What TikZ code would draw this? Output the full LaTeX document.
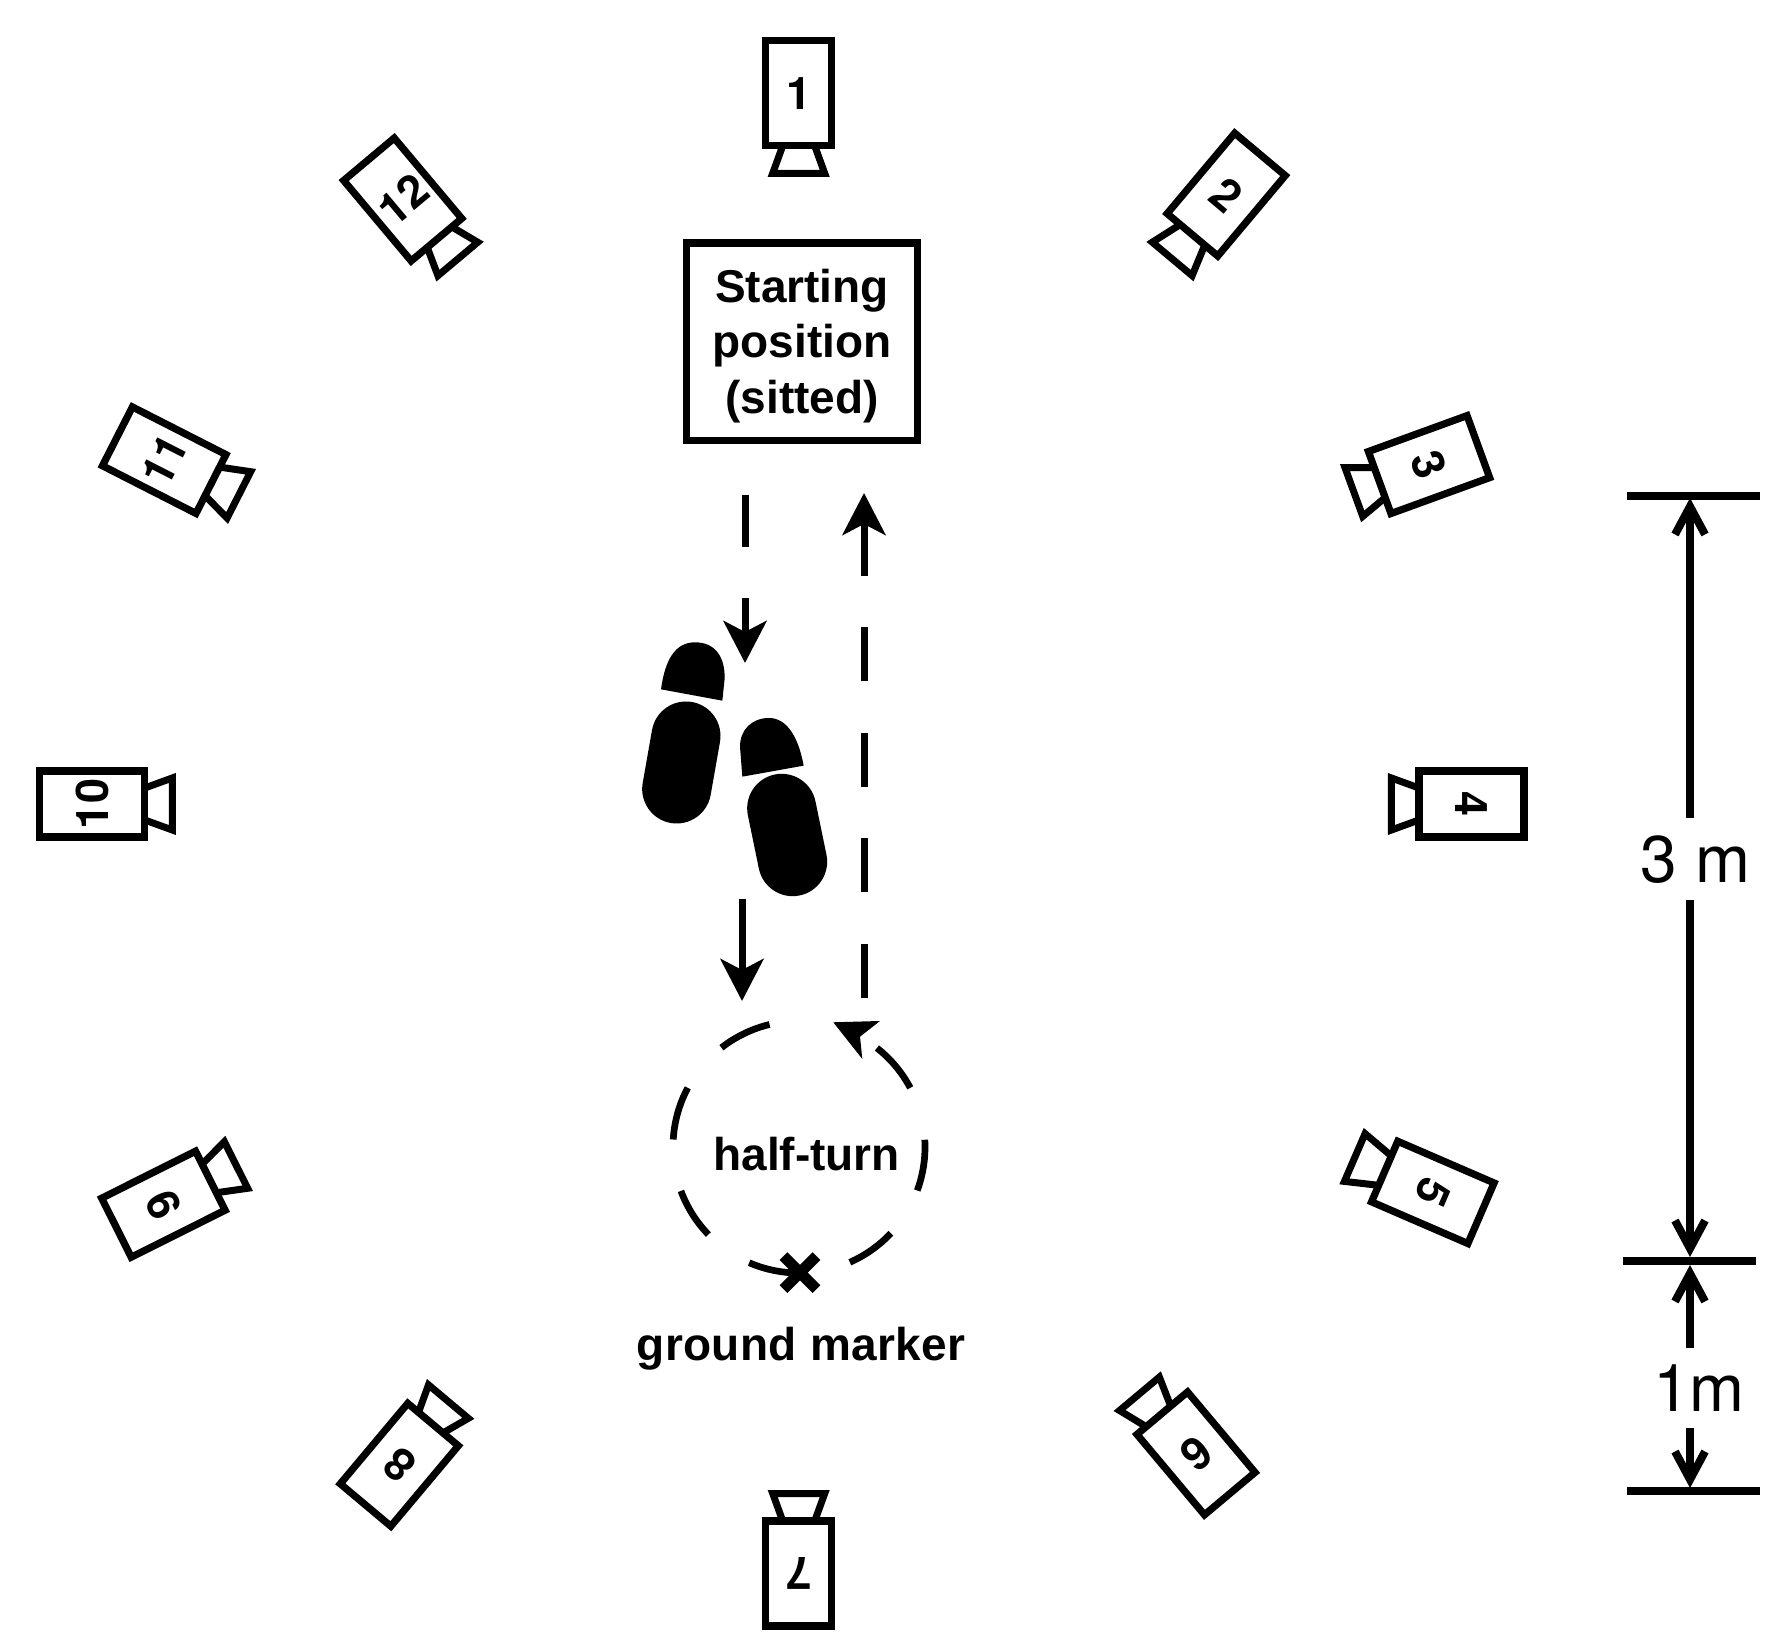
\documentclass[tikz,border=0pt]{standalone}
\usepackage{fontspec}
\setmainfont{Liberation Sans}
\newfontfamily\digitfont{TeX Gyre Heros}
\usetikzlibrary{arrows.meta,calc}
\tikzset{
  cambody/.style={draw,line width=7.2pt,minimum width=66pt,minimum height=105pt,inner sep=0pt,outer sep=0pt,transform shape,font=\digitfont\bfseries\fontsize{45}{45}\selectfont},
  pics/cam/.style args={#1/#2/#3}{code={
    \node[cambody] (-body) {#1};
    \draw[line width=7pt,line join=miter,miter limit=10] (#2-16,-52.5) -- (#2-26,-80-#3) -- (#2+26,-80-#3) -- (#2+16,-52.5);
  }},
  pathline/.style={line width=7pt},
  bigtip/.style={-{Stealth[length=42pt,width=43pt,inset=11pt]}},
  dimline/.style={line width=8pt},
  dimtip/.style={-{Straight Barb[length=28pt,width=30pt,line width=8pt]}},
  boldlabel/.style={font=\bfseries\fontsize{46}{56}\selectfont,anchor=base,inner sep=0pt},
  dimlabel/.style={font=\digitfont\fontsize{66}{66}\selectfont,anchor=base,inner sep=0pt},
  turnarc/.style={line width=6.7pt}
}
\begin{document}
\begin{tikzpicture}[x=1pt,y=1pt]
\useasboundingbox (0,0) rectangle (1787,1650);
% cameras
\pic[rotate=0]    (c1)  at (798.7,1556.7) {cam=1/0/0};
\pic[rotate=-40]  (c2)  at (1226.2,1455.4) {cam=2/0/4};
\pic[rotate=-70]  (c3)  at (1429,1185.4) {cam=3/0/0};
\pic[rotate=-90]  (c4)  at (1471.4,846) {cam=4/0/0};
\pic[rotate=-113.4] (c5) at (1432.8,457.6) {cam=5/-1/5.5};
\pic[rotate=-140] (c6)  at (1196,196.6) {cam=6/5/2};
\pic[rotate=180]  (c7)  at (798.7,76.5) {cam=7/0/0};
\pic[rotate=140]  (c8)  at (399.3,185.2) {cam=8/3/0};
\pic[rotate=116.6] (c9) at (163.4,445.8) {cam=9/2.5/2.5};
\pic[rotate=90]   (c10) at (92.3,846) {cam=10/0/0};
\pic[rotate=63]   (c11) at (164.2,1189.8) {cam=11/3/2.3};
\pic[rotate=40]   (c12) at (402.7,1450.5) {cam=12/4/1};
% starting box
\node[draw,line width=7.3pt,minimum width=231pt,minimum height=197.3pt,inner sep=0pt] (start) at (801.8,1308.3) {};
\node[boldlabel] (t1) at (802,1347.8) {Starting};
\node[boldlabel] (t2) at (802,1292.8) {position};
\node[boldlabel] (t3) at (802,1236.8) {(sitted)};
% walking paths
\coordinate (a1) at (745,1155);
\coordinate (a2) at (745,987);
\coordinate (b1) at (742,751);
\coordinate (b2) at (742,649);
\coordinate (r1) at (864,652);
\coordinate (r2) at (864,1157);
\draw[pathline,bigtip,dash pattern=on 52pt off 51pt] (a1) -- (a2);
\draw[pathline,bigtip] (b1) -- (b2);
\draw[pathline,bigtip,dash pattern=on 54pt off 51.5pt] (r1) -- (r2);
% footprints
\begin{scope}[shift={(600,1050)},x=0.33333pt,y=-0.33333pt]
\draw[line width=69pt,line cap=round] (258,408) -- (230,567);
\draw[line width=69pt,line cap=round] (545,625) -- (578,785);
\fill (183,268) .. controls (195,180) and (225,127) .. (285,127) .. controls (345,127) and (375,170) .. (374,235) -- (367,302) -- cycle;
\fill (427,530) -- (420,440) .. controls (420,390) and (455,354) .. (507,354) .. controls (560,354) and (595,410) .. (611,497) -- cycle;
\end{scope}
% half turn
\coordinate (hc) at (799,503);
\foreach \p/\q in {103.5/128,152/176.6,200.4/224,246.7/270.8,293.8/316.8,339.8/363.3,28/51.8}{
  \draw[turnarc] ([shift={(\p:126)}]hc) arc (\p:\q:126);
}
\fill (833.3,627.7) -- (880,629) -- (860,613.3) -- (862.3,591) -- cycle;
\node[boldlabel] (turn) at (806.7,480) {half-turn};
\node[boldlabel] (marker) at (801,290) {\addfontfeature{LetterSpace=0.7}ground marker};
\coordinate (x) at (800,377.3);
\draw[line width=11pt] ($(x)+(-16.5,-16.5)$) -- ($(x)+(16.5,16.5)$);
\draw[line width=11pt] ($(x)+(-16.5,16.5)$) -- ($(x)+(16.5,-16.5)$);
% dimensions
\draw[dimline] (1627,1154) -- (1760,1154);
\draw[dimline] (1623,389) -- (1756,389);
\draw[dimline] (1627,159.5) -- (1760,159.5);
\draw[dimline,dimtip] (1690,832) -- (1690,1152);
\draw[dimline,dimtip] (1690,750) -- (1690,393);
\draw[dimline,dimtip] (1690,302) -- (1690,385);
\draw[dimline,dimtip] (1690,222) -- (1690,162);
\node[dimlabel] (l3) at (1695,767) {3 m};
\node[dimlabel] (l1) at (1699,239) {1m};
\end{tikzpicture}
\end{document}
